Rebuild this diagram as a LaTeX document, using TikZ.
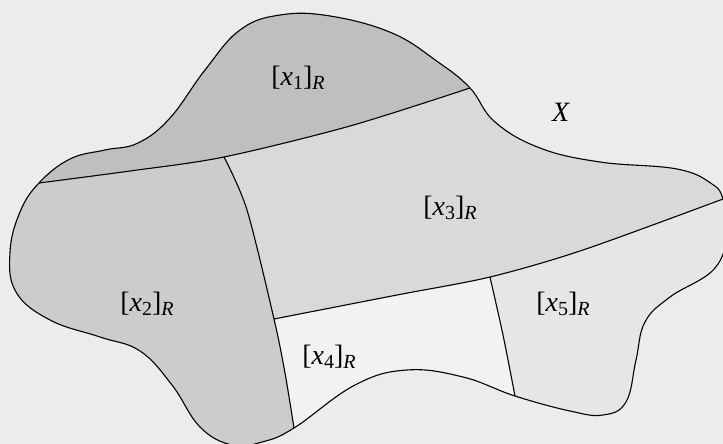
\documentclass[tikz,border=0pt]{standalone}
\usepackage{fontspec}
\setmainfont{Liberation Serif}
\usepackage{tikz}
\definecolor{bgfill}{HTML}{ECECEC}
\definecolor{clsone}{HTML}{BFBFBF}
\definecolor{clstwo}{HTML}{CCCCCC}
\definecolor{clsthree}{HTML}{D9D9D9}
\definecolor{clsfour}{HTML}{F2F2F2}
\definecolor{clsfive}{HTML}{E6E6E6}
\tikzset{
  border/.style={draw=black,line width=0.55pt,line join=round},
  classlabel/.style={inner sep=0pt,font=\fontsize{14}{16}\selectfont}
}
\newcommand{\eqcls}[1]{[\textit{x}\raisebox{-0.25ex}{\fontsize{10}{10}\selectfont #1}]\raisebox{-0.25ex}{\fontsize{10}{10}\selectfont\textit{R}}}

\begin{document}
\begin{tikzpicture}[x=0.5pt,y=-0.5pt]
  \useasboundingbox (0,0) rectangle (723,444);
  \fill[bgfill] (0,0) rectangle (723,444);

  % points where the borders meet
  \coordinate (P1) at (39,183);
  \coordinate (P2) at (470,88);
  \coordinate (P3) at (723,199);
  \coordinate (P4) at (515,396);
  \coordinate (P5) at (294,428);
  \coordinate (Q1) at (224,157);
  \coordinate (Q2) at (274,319);
  \coordinate (Q3) at (490,277);
  \coordinate (A1) at (130,171);
  \coordinate (A2) at (350,126);
  \coordinate (B1) at (247,210);
  \coordinate (B2) at (285,373);
  \coordinate (C1) at (397,295);
  \coordinate (C2) at (583,250);
  \coordinate (D1) at (503,335);

  \begin{scope}
    \clip plot[smooth cycle,tension=0.68] coordinates {(P1) (70,159) (105,150) (138,143) (170,118) (205,70) (240,30)
      (280,15) (330,16) (392,33) (438,62) (P2) (495,122) (540,148) (600,162) (677,169) (712,184) (P3)
      (728,228) (715,268) (670,297) (645,322) (636,360) (626,402) (603,415) (570,411) (P4) (463,377)
      (407,370) (355,385) (P5) (262,442) (232,445) (200,427) (172,385) (140,351) (100,337) (50,320)
      (16,292) (10,252) (20,212)};
    \fill[clsfour] (-20,-20) rectangle (760,470);
    \fill[clsfive] (515,470) -- plot[smooth] coordinates {(P4) (D1) (Q3)} -- (490,-20) -- (760,-20) -- (760,470) -- cycle;
    \fill[clsthree] (-20,-20) -- (-20,319) -- plot[smooth] coordinates {(Q2) (C1) (Q3) (C2) (P3)} -- (760,199) -- (760,-20) -- cycle;
    \fill[clstwo] (-20,-20) -- (224,-20) -- plot[smooth] coordinates {(Q1) (B1) (Q2) (B2) (P5)} -- (294,470) -- (-20,470) -- cycle;
    \fill[clsone] (-20,183) -- plot[smooth] coordinates {(P1) (A1) (Q1) (A2) (P2)} -- (470,-20) -- (-20,-20) -- cycle;
  \end{scope}

  \draw[border] plot[smooth cycle,tension=0.68] coordinates {(P1) (70,159) (105,150) (138,143) (170,118) (205,70) (240,30)
    (280,15) (330,16) (392,33) (438,62) (P2) (495,122) (540,148) (600,162) (677,169) (712,184) (P3)
    (728,228) (715,268) (670,297) (645,322) (636,360) (626,402) (603,415) (570,411) (P4) (463,377)
    (407,370) (355,385) (P5) (262,442) (232,445) (200,427) (172,385) (140,351) (100,337) (50,320)
    (16,292) (10,252) (20,212)};
  \draw[border] plot[smooth] coordinates {(P1) (A1) (Q1) (A2) (P2)};
  \draw[border] plot[smooth] coordinates {(Q1) (B1) (Q2) (B2) (P5)};
  \draw[border] plot[smooth] coordinates {(Q2) (C1) (Q3) (C2) (P3)};
  \draw[border] plot[smooth] coordinates {(P4) (D1) (Q3)};

  \node[classlabel] (cls1) at (298,78) {\eqcls{1}};
  \node[classlabel] (cls2) at (147,304) {\eqcls{2}};
  \node[classlabel] (cls3) at (450,208) {\eqcls{3}};
  \node[classlabel] (cls4) at (329,357) {\eqcls{4}};
  \node[classlabel] (cls5) at (563,304) {\eqcls{5}};
  \node[classlabel] (space) at (561,112) {\textit{X}};
\end{tikzpicture}
\end{document}
